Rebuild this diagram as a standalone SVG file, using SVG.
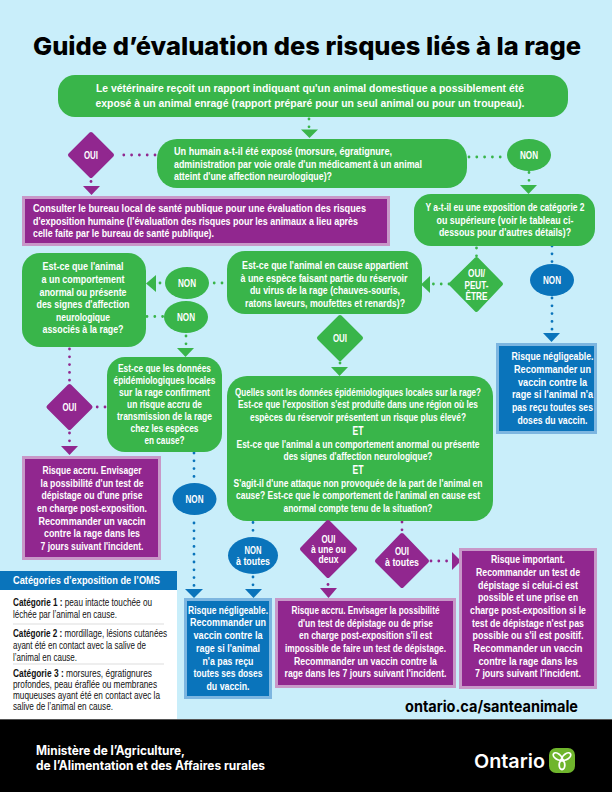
<svg xmlns="http://www.w3.org/2000/svg" width="612" height="792" viewBox="0 0 612 792">
<style>
text{font-family:"Liberation Sans",Arial,sans-serif;font-weight:700;fill:#fff;font-size:11.5px}
.c{text-anchor:middle}
.g{fill:#39b54a}
.p{fill:#91278f}
.b{fill:#0a74bb}
.gd{fill:#39b54a;stroke:#39b54a;stroke-width:4;stroke-linejoin:round}
.pd{fill:#91278f;stroke:#91278f;stroke-width:4;stroke-linejoin:round}
.pb{fill:#91278f;stroke:#c898c8;stroke-width:3}
.bb{fill:#0a74bb;stroke:#7db6e0;stroke-width:3}
.dg,.dp,.db{fill:none;stroke-width:2.8;stroke-linecap:round;stroke-dasharray:0 7.8}
.dg{stroke:#39b54a}
.dp{stroke:#91278f}
.db{stroke:#0a74bb}
.who{fill:#111;font-weight:400;font-size:10.6px}
.whob{fill:#111;font-weight:700;font-size:10.6px}
.head{font-family:"Inter","Lato",sans-serif;font-weight:800}
</style>
<rect width="612" height="792" fill="#c9eefa"/>
<text class="head" x="33" y="55" style="fill:#000;font-size:25px" textLength="548" lengthAdjust="spacingAndGlyphs">Guide d’évaluation des risques liés à la rage</text>

<g id="connectors">
<path class="dg" d="M309 119V127"/><polygon class="g" points="301,129.5 318,129.5 309.5,138"/>
<path class="dp" d="M155 155H117"/><path class="dp" d="M91 181.5V182"/><polygon class="p" points="83,186 100,186 91.5,195"/>
<path class="dg" d="M469 157H503"/><path class="dg" d="M529 172.5V181"/><polygon class="g" points="520,185 537,185 528.5,194"/>
<path class="dg" d="M476.5 248V257"/>
<path class="db" d="M552 246V262"/><path class="db" d="M552 298V331"/><polygon class="b" points="543,333 560,333 551.5,342"/>
<path class="dg" d="M449 284H432"/><polygon class="g" points="421,284.5 430,276 430,293"/>
<path class="dg" d="M340 363V363.5"/><polygon class="g" points="331,367 348,367 339.5,376"/>
<path class="dg" d="M222 283H212"/><path class="dg" d="M160 283V283.1"/><polygon class="g" points="146,283.5 156,275 156,292"/>
<path class="dg" d="M147 316.5H163"/><path class="dg" d="M186 336V345"/><polygon class="g" points="177,348 194,348 185.5,357"/>
<path class="dp" d="M69.5 349V381"/><path class="dp" d="M105 407H97"/><path class="dp" d="M69.5 433V442"/><polygon class="p" points="61,446 78,446 69.5,455"/>
<path class="db" d="M194 453V478"/><path class="db" d="M194 523V586"/><polygon class="b" points="185,589 203,589 194,598"/>
<path class="db" d="M253 522.5V531"/><path class="db" d="M253 577V586"/><polygon class="b" points="245,589 262,589 253.5,598"/>
<path class="dp" d="M328 584.5V585"/><polygon class="p" points="320,588 337,588 328.5,598"/>
<path class="dp" d="M402 522V531"/><path class="dp" d="M431 561H448"/><polygon class="p" points="461,561 452,552 452,570"/>
</g>

<g id="n-rapport">
<rect class="g" x="58" y="75" width="510" height="42" rx="17"/>
<text class="c" x="310" y="92" textLength="428" lengthAdjust="spacingAndGlyphs">Le vétérinaire reçoit un rapport indiquant qu'un animal domestique a possiblement été</text>
<text class="c" x="310" y="107" textLength="429" lengthAdjust="spacingAndGlyphs">exposé à un animal enragé (rapport préparé pour un seul animal ou pour un troupeau).</text>
</g>

<g id="n-humain">
<rect class="g" x="157" y="139" width="310" height="49" rx="20"/>
<text x="174" y="155" textLength="218" lengthAdjust="spacingAndGlyphs">Un humain a-t-il été exposé (morsure, égratignure,</text>
<text x="174" y="167.5" textLength="248" lengthAdjust="spacingAndGlyphs">administration par voie orale d'un médicament à un animal</text>
<text x="174" y="180" textLength="158" lengthAdjust="spacingAndGlyphs">atteint d'une affection neurologique)?</text>
</g>

<g id="n-oui-1">
<polygon class="pd" points="91,134 112,155 91,176 70,155"/>
<text class="c" x="91" y="159" textLength="14" lengthAdjust="spacingAndGlyphs">OUI</text>
</g>

<g id="n-consulter">
<rect class="pb" x="23.5" y="197.5" width="365" height="47"/>
<text x="33" y="212" textLength="333" lengthAdjust="spacingAndGlyphs">Consulter le bureau local de santé publique pour une évaluation des risques</text>
<text x="33" y="225" textLength="325" lengthAdjust="spacingAndGlyphs">d'exposition humaine (l'évaluation des risques pour les animaux a lieu après</text>
<text x="33" y="237" textLength="181" lengthAdjust="spacingAndGlyphs">celle faite par le bureau de santé publique).</text>
</g>

<g id="n-non-1">
<ellipse class="g" cx="529" cy="155" rx="22" ry="16"/>
<text class="c" x="529" y="159" textLength="18" lengthAdjust="spacingAndGlyphs">NON</text>
</g>

<g id="n-categorie">
<rect class="g" x="414" y="194" width="181" height="52" rx="17"/>
<text class="c" x="505" y="211" textLength="159" lengthAdjust="spacingAndGlyphs">Y a-t-il eu une exposition de catégorie 2</text>
<text class="c" x="505" y="223.5" textLength="137" lengthAdjust="spacingAndGlyphs">ou supérieure (voir le tableau ci-</text>
<text class="c" x="505" y="236" textLength="132" lengthAdjust="spacingAndGlyphs">dessous pour d'autres détails)?</text>
</g>

<g id="n-oui-peut">
<polygon class="gd" points="476.5,259 501,284 476.5,310 451,284"/>
<text class="c" x="476.5" y="277" textLength="17" lengthAdjust="spacingAndGlyphs">OUI/</text>
<text class="c" x="476.5" y="288.5" textLength="24" lengthAdjust="spacingAndGlyphs">PEUT-</text>
<text class="c" x="476.5" y="300" textLength="22" lengthAdjust="spacingAndGlyphs">ÊTRE</text>
</g>

<g id="n-non-2">
<ellipse class="b" cx="552" cy="280" rx="22" ry="16"/>
<text class="c" x="552" y="284" textLength="18" lengthAdjust="spacingAndGlyphs">NON</text>
</g>

<g id="n-negligeable-1">
<rect class="bb" x="497.500" y="344.500" width="98" height="88"/>
<text class="c" x="552.500" y="360" textLength="82" lengthAdjust="spacingAndGlyphs">Risque négligeable.</text>
<text class="c" x="552.500" y="372.500" textLength="77" lengthAdjust="spacingAndGlyphs">Recommander un</text>
<text class="c" x="552.500" y="385.500" textLength="69" lengthAdjust="spacingAndGlyphs">vaccin contre la</text>
<text class="c" x="552.500" y="398" textLength="81" lengthAdjust="spacingAndGlyphs">rage si l'animal n'a</text>
<text class="c" x="552.500" y="411" textLength="81" lengthAdjust="spacingAndGlyphs">pas reçu toutes ses</text>
<text class="c" x="552.500" y="424" textLength="70" lengthAdjust="spacingAndGlyphs">doses du vaccin.</text>
</g>

<g id="n-reservoir">
<rect class="g" x="227" y="251" width="195" height="63" rx="18"/>
<text class="c" x="325" y="269" textLength="166" lengthAdjust="spacingAndGlyphs">Est-ce que l'animal en cause appartient</text>
<text class="c" x="324" y="282" textLength="167" lengthAdjust="spacingAndGlyphs">à une espèce faisant partie du réservoir</text>
<text class="c" x="325" y="294" textLength="150" lengthAdjust="spacingAndGlyphs">du virus de la rage (chauves-souris,</text>
<text class="c" x="325" y="307" textLength="160" lengthAdjust="spacingAndGlyphs">ratons laveurs, moufettes et renards)?</text>
</g>

<g id="n-oui-2">
<polygon class="gd" points="340,317 361,338 340,359 319,338"/>
<text class="c" x="340" y="342" textLength="14" lengthAdjust="spacingAndGlyphs">OUI</text>
</g>

<g id="n-quelles">
<rect class="g" x="227" y="376" width="266" height="145" rx="20"/>
<text class="c" x="358" y="396" textLength="246" lengthAdjust="spacingAndGlyphs">Quelles sont les données épidémiologiques locales sur la rage?</text>
<text class="c" x="358" y="408" textLength="240" lengthAdjust="spacingAndGlyphs">Est-ce que l'exposition s'est produite dans une région où les</text>
<text class="c" x="358" y="421" textLength="216" lengthAdjust="spacingAndGlyphs">espèces du réservoir présentent un risque plus élevé?</text>
<text class="c" x="358" y="434.500" style="font-size:12.5px" textLength="11" lengthAdjust="spacingAndGlyphs">ET</text>
<text class="c" x="358" y="448" textLength="243" lengthAdjust="spacingAndGlyphs">Est-ce que l'animal a un comportement anormal ou présente</text>
<text class="c" x="358" y="460" textLength="149" lengthAdjust="spacingAndGlyphs">des signes d'affection neurologique?</text>
<text class="c" x="358" y="473.500" style="font-size:12.5px" textLength="11" lengthAdjust="spacingAndGlyphs">ET</text>
<text class="c" x="358" y="487" textLength="249" lengthAdjust="spacingAndGlyphs">S'agit-il d'une attaque non provoquée de la part de l'animal en</text>
<text class="c" x="358" y="499" textLength="244" lengthAdjust="spacingAndGlyphs">cause? Est-ce que le comportement de l'animal en cause est</text>
<text class="c" x="358" y="512" textLength="149" lengthAdjust="spacingAndGlyphs">anormal compte tenu de la situation?</text>
</g>

<g id="n-comportement">
<rect class="g" x="22" y="253" width="124" height="94" rx="18"/>
<text class="c" x="83" y="270" textLength="81" lengthAdjust="spacingAndGlyphs">Est-ce que l'animal</text>
<text class="c" x="83" y="283" textLength="83" lengthAdjust="spacingAndGlyphs">a un comportement</text>
<text class="c" x="83" y="296" textLength="87" lengthAdjust="spacingAndGlyphs">anormal ou présente</text>
<text class="c" x="83" y="308" textLength="93" lengthAdjust="spacingAndGlyphs">des signes d'affection</text>
<text class="c" x="83" y="321" textLength="54" lengthAdjust="spacingAndGlyphs">neurologique</text>
<text class="c" x="83" y="333" textLength="81" lengthAdjust="spacingAndGlyphs">associés à la rage?</text>
</g>

<g id="n-non-3">
<ellipse class="g" cx="187" cy="283" rx="22" ry="16"/>
<text class="c" x="187" y="287" textLength="18" lengthAdjust="spacingAndGlyphs">NON</text>
</g>

<g id="n-non-4">
<ellipse class="g" cx="186" cy="317" rx="22" ry="16"/>
<text class="c" x="186" y="321" textLength="18" lengthAdjust="spacingAndGlyphs">NON</text>
</g>

<g id="n-donnees">
<rect class="g" x="107" y="357" width="115" height="95" rx="18"/>
<text class="c" x="164.500" y="372" textLength="93" lengthAdjust="spacingAndGlyphs">Est-ce que les données</text>
<text class="c" x="164.500" y="384" textLength="102" lengthAdjust="spacingAndGlyphs">épidémiologiques locales</text>
<text class="c" x="164.500" y="396" textLength="91" lengthAdjust="spacingAndGlyphs">sur la rage confirment</text>
<text class="c" x="164.500" y="408" textLength="75" lengthAdjust="spacingAndGlyphs">un risque accru de</text>
<text class="c" x="164.500" y="420" textLength="95" lengthAdjust="spacingAndGlyphs">transmission de la rage</text>
<text class="c" x="164.500" y="432" textLength="68" lengthAdjust="spacingAndGlyphs">chez les espèces</text>
<text class="c" x="164.500" y="444" textLength="40" lengthAdjust="spacingAndGlyphs">en cause?</text>
</g>

<g id="n-oui-3">
<polygon class="pd" points="69.500,386 90.500,407 69.500,428 48.500,407"/>
<text class="c" x="69.500" y="411" textLength="14" lengthAdjust="spacingAndGlyphs">OUI</text>
</g>

<g id="n-accru-1">
<rect class="pb" x="23.500" y="457.500" width="136" height="101"/>
<text class="c" x="92" y="474" textLength="99" lengthAdjust="spacingAndGlyphs">Risque accru. Envisager</text>
<text class="c" x="92" y="487" textLength="103" lengthAdjust="spacingAndGlyphs">la possibilité d'un test de</text>
<text class="c" x="92" y="499" textLength="101" lengthAdjust="spacingAndGlyphs">dépistage ou d'une prise</text>
<text class="c" x="92" y="512" textLength="110" lengthAdjust="spacingAndGlyphs">en charge post-exposition.</text>
<text class="c" x="92" y="525" textLength="107" lengthAdjust="spacingAndGlyphs">Recommander un vaccin</text>
<text class="c" x="92" y="537" textLength="96" lengthAdjust="spacingAndGlyphs">contre la rage dans les</text>
<text class="c" x="92" y="550" textLength="103" lengthAdjust="spacingAndGlyphs">7 jours suivant l'incident.</text>
</g>

<g id="n-non-5">
<ellipse class="b" cx="194.500" cy="499" rx="22" ry="16"/>
<text class="c" x="194.500" y="503" textLength="18" lengthAdjust="spacingAndGlyphs">NON</text>
</g>

<g id="n-negligeable-2">
<rect class="bb" x="185.500" y="599.500" width="85" height="98"/>
<text class="c" x="228" y="614" textLength="80" lengthAdjust="spacingAndGlyphs">Risque négligeable.</text>
<text class="c" x="228" y="626" textLength="76" lengthAdjust="spacingAndGlyphs">Recommander un</text>
<text class="c" x="228" y="639" textLength="69" lengthAdjust="spacingAndGlyphs">vaccin contre la</text>
<text class="c" x="228" y="652" textLength="64" lengthAdjust="spacingAndGlyphs">rage si l'animal</text>
<text class="c" x="228" y="665" textLength="51" lengthAdjust="spacingAndGlyphs">n'a pas reçu</text>
<text class="c" x="228" y="677" textLength="69" lengthAdjust="spacingAndGlyphs">toutes ses doses</text>
<text class="c" x="228" y="690" textLength="43" lengthAdjust="spacingAndGlyphs">du vaccin.</text>
</g>

<g id="n-non-toutes">
<ellipse class="b" cx="253" cy="555.500" rx="25" ry="18.500"/>
<text class="c" x="253" y="554" textLength="17" lengthAdjust="spacingAndGlyphs">NON</text>
<text class="c" x="253" y="565" textLength="34" lengthAdjust="spacingAndGlyphs">à toutes</text>
</g>

<g id="n-oui-une">
<polygon class="pd" points="328,522 355,549 328,576 302,549"/>
<text class="c" x="328.500" y="543" textLength="14" lengthAdjust="spacingAndGlyphs">OUI</text>
<text class="c" x="328.500" y="553" textLength="35" lengthAdjust="spacingAndGlyphs">à une ou</text>
<text class="c" x="328.500" y="563" textLength="20" lengthAdjust="spacingAndGlyphs">deux</text>
</g>

<g id="n-oui-toutes">
<polygon class="pd" points="402,535 427,561 402,586 377,561"/>
<text class="c" x="402" y="555" textLength="14" lengthAdjust="spacingAndGlyphs">OUI</text>
<text class="c" x="402" y="566" textLength="34" lengthAdjust="spacingAndGlyphs">à toutes</text>
</g>

<g id="n-accru-2">
<rect class="pb" x="276.500" y="599.500" width="178" height="87"/>
<text class="c" x="365.500" y="614" textLength="148" lengthAdjust="spacingAndGlyphs">Risque accru. Envisager la possibilité</text>
<text class="c" x="365.500" y="627" textLength="135" lengthAdjust="spacingAndGlyphs">d'un test de dépistage ou de prise</text>
<text class="c" x="365.500" y="639" textLength="133" lengthAdjust="spacingAndGlyphs">en charge post-exposition s'il est</text>
<text class="c" x="365.500" y="652" textLength="161" lengthAdjust="spacingAndGlyphs">impossible de faire un test de dépistage.</text>
<text class="c" x="365.500" y="665" textLength="143" lengthAdjust="spacingAndGlyphs">Recommander un vaccin contre la</text>
<text class="c" x="365.500" y="677" textLength="162" lengthAdjust="spacingAndGlyphs">rage dans les 7 jours suivant l'incident.</text>
</g>

<g id="n-important">
<rect class="pb" x="460.500" y="549.500" width="135" height="138"/>
<text class="c" x="528" y="563" textLength="74" lengthAdjust="spacingAndGlyphs">Risque important.</text>
<text class="c" x="528" y="576" textLength="104" lengthAdjust="spacingAndGlyphs">Recommander un test de</text>
<text class="c" x="528" y="589" textLength="100" lengthAdjust="spacingAndGlyphs">dépistage si celui-ci est</text>
<text class="c" x="528" y="601" textLength="100" lengthAdjust="spacingAndGlyphs">possible et une prise en</text>
<text class="c" x="528" y="614" textLength="116" lengthAdjust="spacingAndGlyphs">charge post-exposition si le</text>
<text class="c" x="528" y="627" textLength="112" lengthAdjust="spacingAndGlyphs">test de dépistage n'est pas</text>
<text class="c" x="528" y="639" textLength="111" lengthAdjust="spacingAndGlyphs">possible ou s'il est positif.</text>
<text class="c" x="528" y="652" textLength="109" lengthAdjust="spacingAndGlyphs">Recommander un vaccin</text>
<text class="c" x="528" y="665" textLength="99" lengthAdjust="spacingAndGlyphs">contre la rage dans les</text>
<text class="c" x="528" y="677" textLength="106" lengthAdjust="spacingAndGlyphs">7 jours suivant l'incident.</text>
</g>

<g id="n-categories">
<rect x="0" y="571" width="177" height="148" fill="#fff"/>
<rect x="0" y="571" width="177" height="19" class="b"/>
<text x="13" y="584" style="font-size:11.5px" textLength="147" lengthAdjust="spacingAndGlyphs">Catégories d’exposition de l’OMS</text>
<text class="who" x="13" y="606" textLength="139" lengthAdjust="spacingAndGlyphs"><tspan class="whob">Catégorie 1 :</tspan> peau intacte touchée ou</text>
<text class="who" x="13" y="618" textLength="104" lengthAdjust="spacingAndGlyphs">léchée par l’animal en cause.</text>
<rect x="13" y="623.500" width="151" height="1" fill="#ddd"/>
<text class="who" x="13" y="637" textLength="154" lengthAdjust="spacingAndGlyphs"><tspan class="whob">Catégorie 2 :</tspan> mordillage, lésions cutanées</text>
<text class="who" x="13" y="649" textLength="133" lengthAdjust="spacingAndGlyphs">ayant été en contact avec la salive de</text>
<text class="who" x="13" y="661" textLength="64" lengthAdjust="spacingAndGlyphs">l’animal en cause.</text>
<rect x="13" y="663.500" width="151" height="1" fill="#ddd"/>
<text class="who" x="13" y="677" textLength="139" lengthAdjust="spacingAndGlyphs"><tspan class="whob">Catégorie 3 :</tspan> morsures, égratignures</text>
<text class="who" x="13" y="688" textLength="144" lengthAdjust="spacingAndGlyphs">profondes, peau éraflée ou membranes</text>
<text class="who" x="13" y="699" textLength="147" lengthAdjust="spacingAndGlyphs">muqueuses ayant été en contact avec la</text>
<text class="who" x="13" y="710" textLength="100" lengthAdjust="spacingAndGlyphs">salive de l’animal en cause.</text>
</g>

<text class="head" x="405" y="712" style="fill:#000;font-size:15.500px;font-weight:700" textLength="173" lengthAdjust="spacingAndGlyphs">ontario.ca/santeanimale</text>

<g id="footer">
<rect x="0" y="719" width="612" height="73" fill="#000"/>
<rect x="0" y="719" width="612" height="1" fill="#555"/>
<text class="head" x="36" y="755" style="font-size:12.500px;font-weight:700" textLength="149" lengthAdjust="spacingAndGlyphs">Ministère de l’Agriculture,</text>
<text class="head" x="36" y="770" style="font-size:12.500px;font-weight:700" textLength="229" lengthAdjust="spacingAndGlyphs">de l’Alimentation et des Affaires rurales</text>
<text class="head" x="474" y="768" style="font-size:19px;font-weight:600" textLength="71" lengthAdjust="spacingAndGlyphs">Ontario</text>
<rect x="549" y="748" width="26" height="25" rx="7" fill="#6fb52c"/>
<g fill="none" stroke="#fff" stroke-width="1.800">
<ellipse cx="562" cy="765" rx="2.800" ry="4.500"/>
<ellipse cx="557.500" cy="756.500" rx="2.800" ry="4.800" transform="rotate(-55 557.500 756.500)"/>
<ellipse cx="566.500" cy="756.500" rx="2.800" ry="4.800" transform="rotate(55 566.500 756.500)"/>
</g>
</g>
</svg>
